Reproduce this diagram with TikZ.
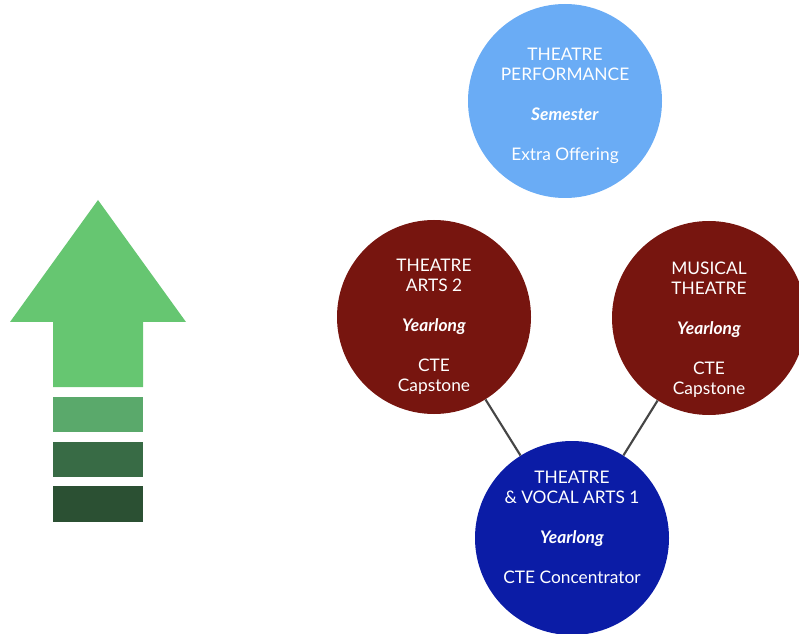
\documentclass[tikz,border=0pt]{standalone}
\usepackage{fontspec}
\setmainfont{Lato}
\definecolor{arrowg}{HTML}{66C671}
\definecolor{bar1}{HTML}{5AA96B}
\definecolor{bar2}{HTML}{386B45}
\definecolor{bar3}{HTML}{2B5033}
\definecolor{lightb}{HTML}{6AACF5}
\definecolor{darkr}{HTML}{77150F}
\definecolor{darkb}{HTML}{0B1CA6}
\definecolor{linkc}{HTML}{454545}
\tikzset{
  course/.style={circle, minimum size=145.5pt, inner sep=0pt},
  coursetext/.style={text=white, align=center, inner sep=0pt,
    font=\fontsize{13pt}{15pt}\selectfont},
  link/.style={draw=linkc, line width=1.6pt}
}
\newcommand{\yl}[1]{\textbf{\textit{#1}}}
\begin{document}
\begin{tikzpicture}[x=0.75pt,y=-0.75pt]
\useasboundingbox (0,0) rectangle (799,634);
\clip (0,0) rectangle (799,634);
% arrow
\fill[arrowg] (98,200) -- (186,322) -- (143,322) -- (143,387) -- (53,387) -- (53,322) -- (10,322) -- cycle;
\fill[bar1] (53,397) rectangle (143,432);
\fill[bar2] (53,442) rectangle (143,477);
\fill[bar3] (53,486) rectangle (143,522);
% circles
\node[course, fill=lightb] (perf) at (565,101) {};
\node[course, fill=darkr] (ta2) at (434,317) {};
\node[course, fill=darkr] (mt) at (709,318) {};
\node[course, fill=darkb] (tva) at (572,538) {};
\node[coursetext] (perfT) at (565,106) {THEATRE\\PERFORMANCE\\[15pt]\yl{Semester}\\[15pt]Extra Offering};
\node[coursetext] (ta2T) at (434,327) {THEATRE\\ARTS 2\\[15pt]\yl{Yearlong}\\[15pt]CTE\\Capstone};
\node[coursetext] (mtT) at (709,330) {MUSICAL\\THEATRE\\[15pt]\yl{Yearlong}\\[15pt]CTE\\Capstone};
\node[coursetext] (tvaT) at (572,527) {THEATRE\\\& VOCAL ARTS 1\\[15pt]\yl{Yearlong}\\[15pt]CTE Concentrator};
\draw[link] (ta2) -- (tva);
\draw[link] (mt) -- (tva);
\end{tikzpicture}
\end{document}
